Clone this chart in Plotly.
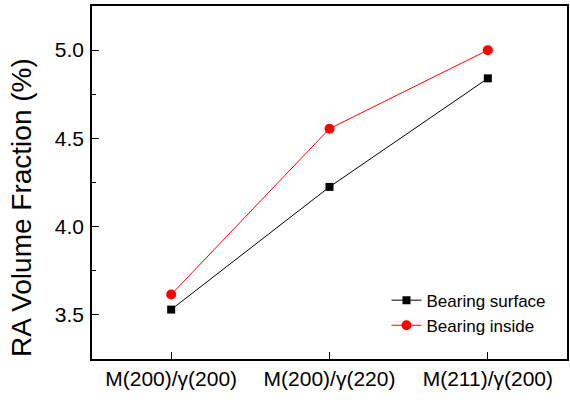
import plotly.graph_objects as go

categories = ["M(200)/γ(200)", "M(200)/γ(220)", "M(211)/γ(200)"]
surface = [3.53, 4.225, 4.84]
inside = [3.615, 4.555, 5.00]

fig = go.Figure()
fig.add_trace(go.Scatter(x=[0, 1, 2], y=surface, mode="lines+markers", name="Bearing surface",
                         line=dict(color="black", width=1),
                         marker=dict(symbol="square", size=8, color="black")))
fig.add_trace(go.Scatter(x=[0, 1, 2], y=inside, mode="lines+markers", name="Bearing inside",
                         line=dict(color="red", width=1),
                         marker=dict(symbol="circle", size=10, color="red")))

fig.update_layout(
    width=570, height=400,
    margin=dict(l=92, r=1, t=6, b=41),
    paper_bgcolor="white", plot_bgcolor="white",
    font=dict(family="Liberation Sans, Arial, sans-serif", color="black", size=17),
    showlegend=True,
    legend=dict(x=0.62, y=0.13, xanchor="left", yanchor="middle", bgcolor="rgba(0,0,0,0)",
                font=dict(size=17), tracegroupgap=0, itemwidth=30),
    annotations=[dict(text="RA Volume Fraction (%)", textangle=-90, xref="paper", yref="paper",
                      x=-0.15, y=0.43, xanchor="center", yanchor="middle", showarrow=False,
                      font=dict(size=28))],
)
fig.update_xaxes(range=[-0.5, 2.5], tickmode="array", tickvals=[0, 1, 2], ticktext=categories,
                 ticks="inside", ticklen=7, tickwidth=1, tickcolor="black",
                 showline=True, linecolor="black", linewidth=1.5, mirror=True,
                 showgrid=False, zeroline=False, tickfont=dict(size=21))
fig.update_yaxes(range=[3.25, 5.25], tickmode="array", tickvals=[3.5, 4.0, 4.5, 5.0],
                 ticktext=["3.5", "4.0", "4.5", "5.0"],
                 ticks="inside", ticklen=7, tickwidth=1, tickcolor="black",
                 minor=dict(tickvals=[3.75, 4.25, 4.75], ticks="inside", ticklen=4, tickcolor="black"),
                 showline=True, linecolor="black", linewidth=1.5, mirror=True,
                 showgrid=False, zeroline=False, tickfont=dict(size=21), ticklabelstandoff=2)

fig.write_html("out.html")
